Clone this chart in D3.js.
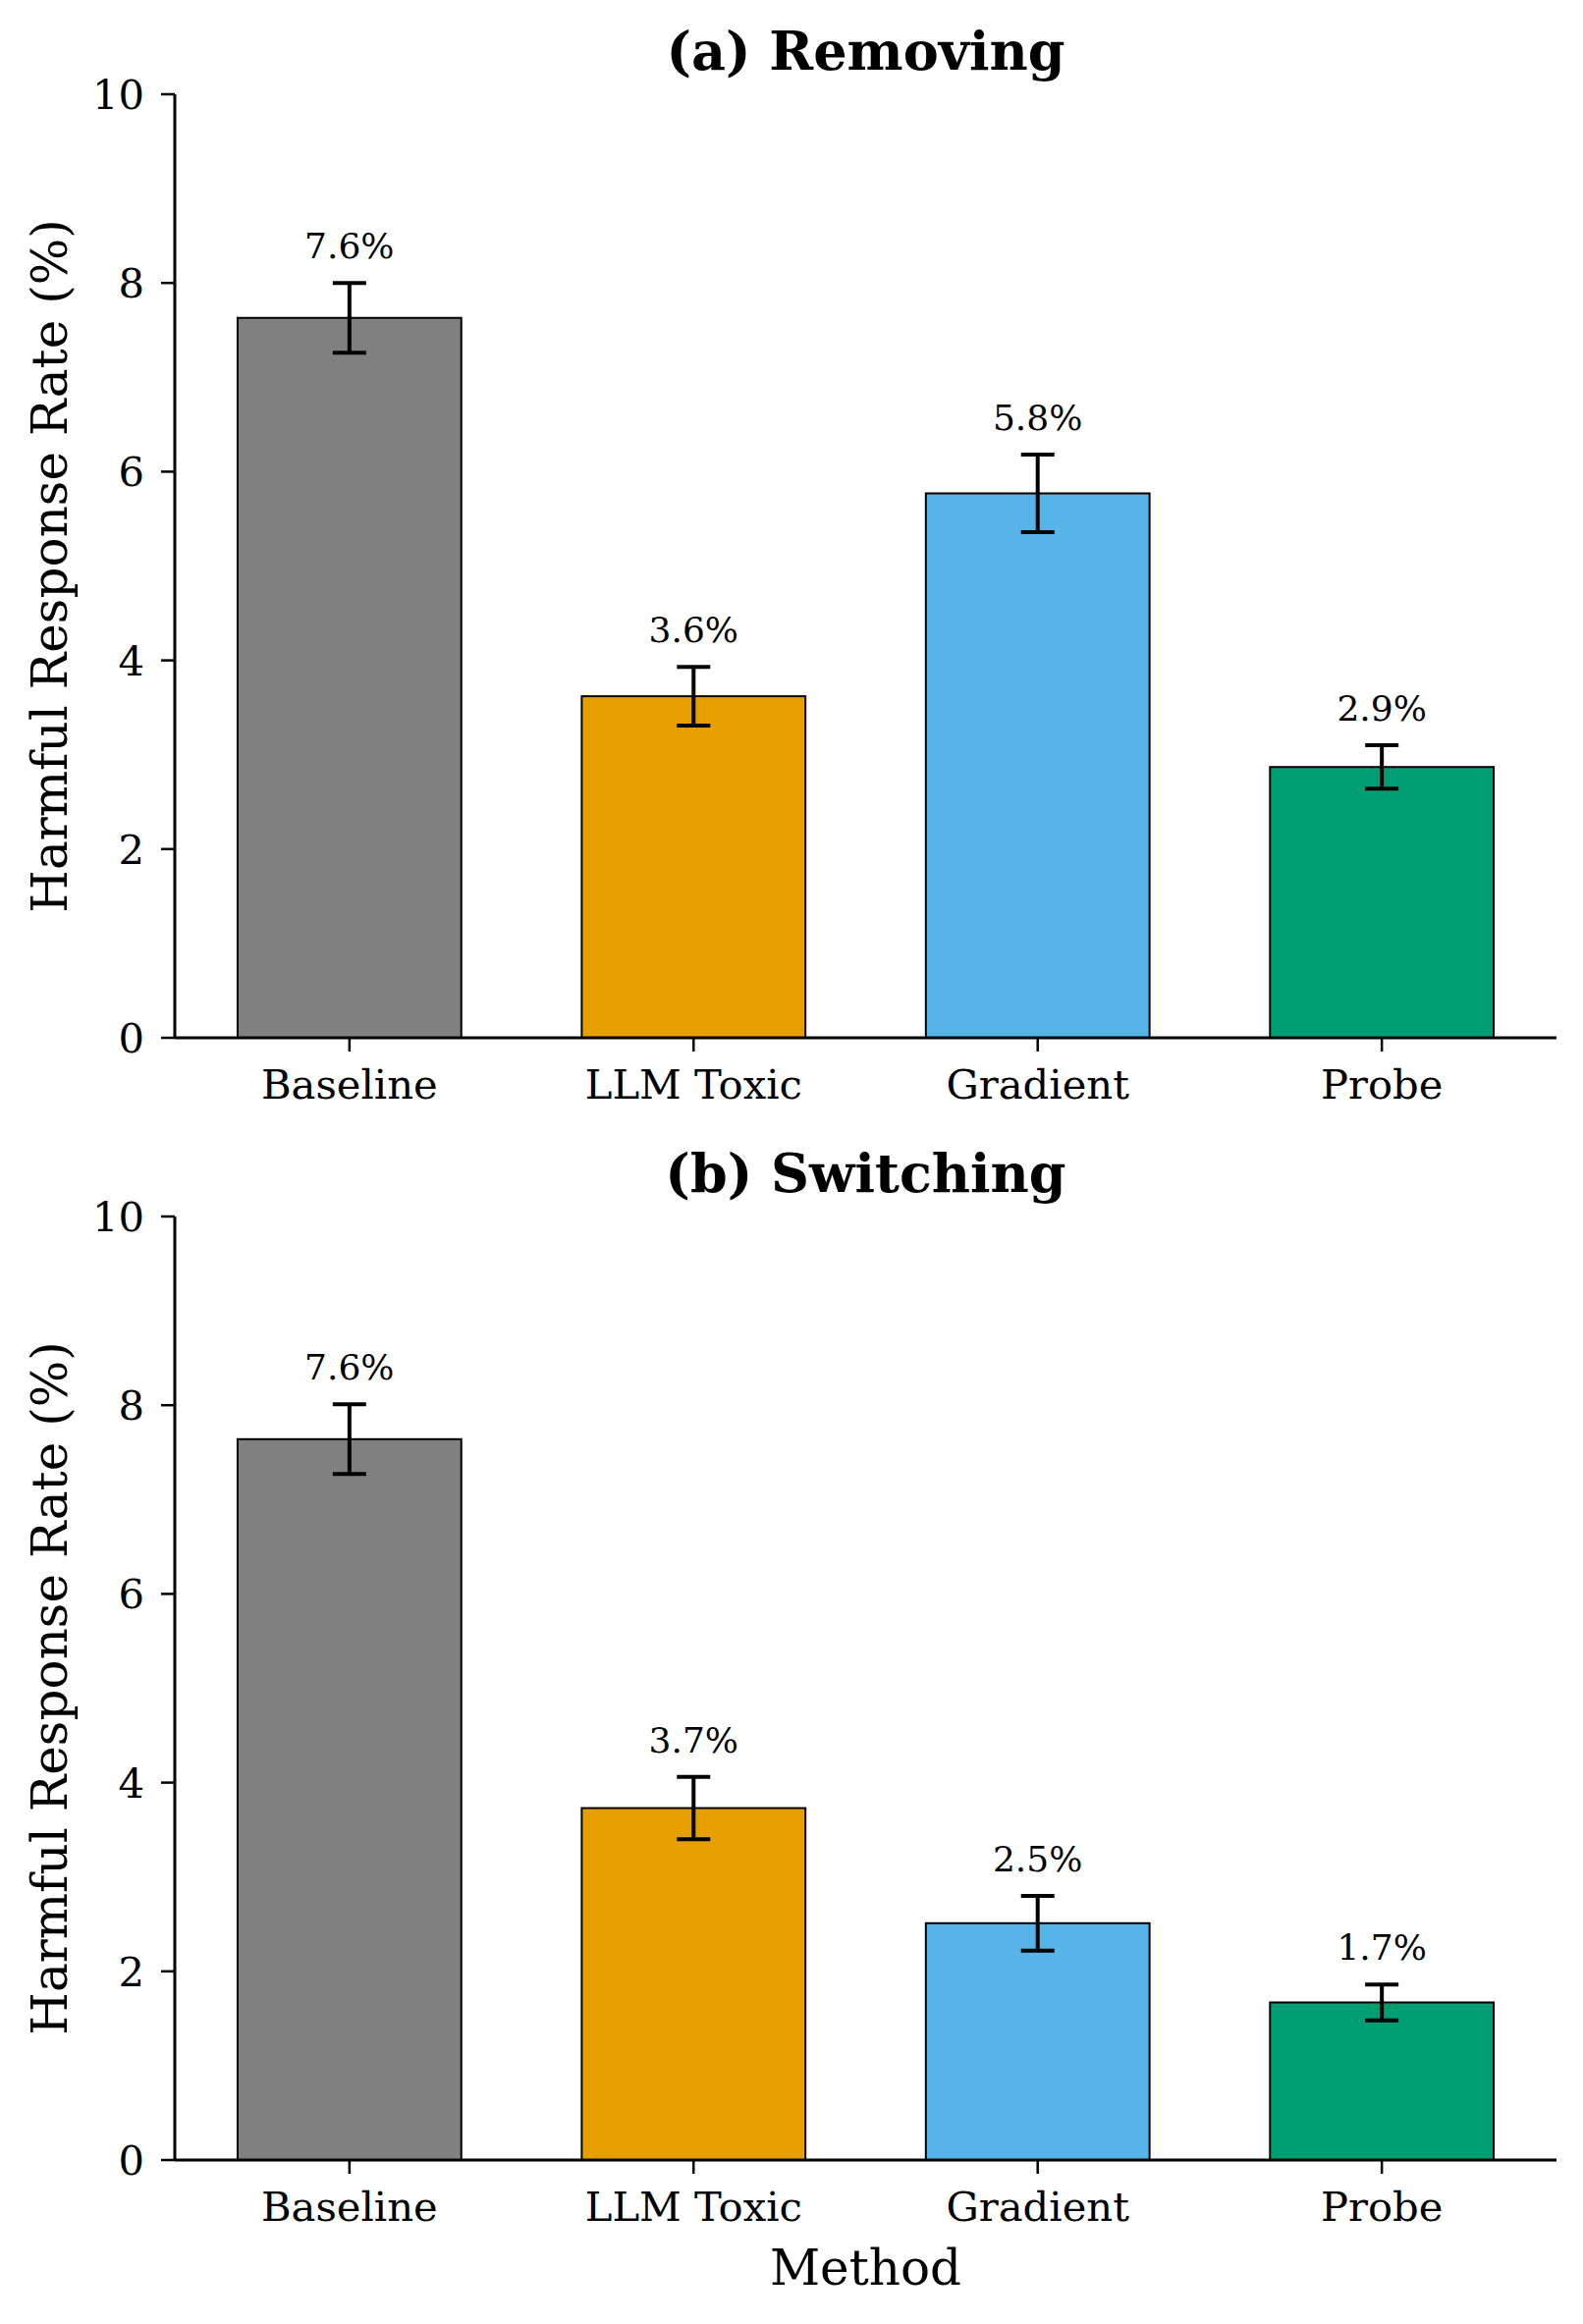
<!DOCTYPE html>
<html>
<head>
<meta charset="utf-8">
<script src="https://cdn.jsdelivr.net/npm/d3@7"></script>
<style>
  body { margin: 0; background: #fff; }
  text { font-family: "DejaVu Serif", serif; fill: #000; }
</style>
</head>
<body>
<div class="chart"></div>
<script>
// data
let methods = ['Baseline', 'LLM Toxic', 'Gradient', 'Probe']
let colors = ['#808080', '#E69F00', '#56B4E9', '#009E73']
let removingRate = [7.63, 3.62, 5.77, 2.87]
let removingErr = [0.37, 0.31, 0.41, 0.23]
let switchingRate = [7.64, 3.73, 2.51, 1.67]
let switchingErr = [0.37, 0.33, 0.29, 0.19]
let yTicks = [0, 2, 4, 6, 8, 10]

let panels = [
  { title: '(a) Removing', rate: removingRate, err: removingErr, top: 96 },
  { title: '(b) Switching', rate: switchingRate, err: switchingErr, top: 1239 }
]

let w = 1612
  , h = 2367
  , left = 178
  , right = 1585
  , plotH = 961

let canvas = d3.select('.chart')
  .append('svg')
  .attr('width', w)
  .attr('height', h)

let x = d3.scaleBand()
  .domain(methods)
  .range([left, right])
  .paddingInner(0.35)
  .paddingOuter(0.1825)

function drawPanel(p) {
  let y = d3.scaleLinear()
    .domain([0, 10])
    .range([p.top + plotH, p.top])

  let g = canvas.append('g')

  g.selectAll('rect')
    .data(p.rate)
    .enter()
    .append('rect')
    .attr('x', (d, i) => x(methods[i]))
    .attr('width', x.bandwidth())
    .attr('y', d => y(d))
    .attr('height', d => y(0) - y(d))
    .attr('fill', (d, i) => colors[i])
    .attr('stroke', '#000')
    .attr('stroke-width', 2)

  // error bars
  let cx = i => x(methods[i]) + x.bandwidth() / 2
  let eb = g.selectAll('.err')
    .data(p.rate)
    .enter()
    .append('g')
    .attr('class', 'err')
  eb.append('line')
    .attr('x1', (d, i) => cx(i)).attr('x2', (d, i) => cx(i))
    .attr('y1', (d, i) => y(d - p.err[i])).attr('y2', (d, i) => y(d + p.err[i]))
  eb.append('line')
    .attr('x1', (d, i) => cx(i) - 17).attr('x2', (d, i) => cx(i) + 17)
    .attr('y1', (d, i) => y(d + p.err[i])).attr('y2', (d, i) => y(d + p.err[i]))
  eb.append('line')
    .attr('x1', (d, i) => cx(i) - 17).attr('x2', (d, i) => cx(i) + 17)
    .attr('y1', (d, i) => y(d - p.err[i])).attr('y2', (d, i) => y(d - p.err[i]))
  eb.selectAll('line')
    .attr('stroke', '#000')
    .attr('stroke-width', 4)

  // value labels
  g.selectAll('.val')
    .data(p.rate)
    .enter()
    .append('text')
    .attr('class', 'val')
    .attr('x', (d, i) => cx(i))
    .attr('y', (d, i) => y(d + p.err[i]) - 25)
    .attr('text-anchor', 'middle')
    .attr('font-size', 36)
    .text(d => d.toFixed(1) + '%')

  // axes
  let yAxis = g.append('g')
    .attr('transform', 'translate(' + left + ',0)')
    .call(d3.axisLeft(y).tickValues(yTicks).tickSize(14).tickSizeOuter(0).tickPadding(17).offset(0))
  yAxis.selectAll('text')
    .attr('font-size', 41.7)
    .attr('dy', '0.36em')
    .style('font-family', '"DejaVu Serif", serif')

  let xAxis = g.append('g')
    .attr('transform', 'translate(0,' + y(0) + ')')
    .call(d3.axisBottom(x).tickSize(14).tickSizeOuter(0).tickPadding(18).offset(0))
  xAxis.selectAll('text')
    .attr('font-size', 41.7)
    .style('font-family', '"DejaVu Serif", serif')

  g.selectAll('.domain').attr('stroke-width', 3)
  g.selectAll('.tick line').attr('stroke-width', 2.5)

  g.append('text')
    .attr('x', (left + right) / 2)
    .attr('y', p.top - 25)
    .attr('text-anchor', 'middle')
    .attr('font-size', 54)
    .attr('font-weight', 'bold')
    .text(p.title)

  g.append('text')
    .attr('transform', 'translate(68,' + (p.top + plotH / 2) + ') rotate(-90)')
    .attr('text-anchor', 'middle')
    .attr('font-size', 50)
    .text('Harmful Response Rate (%)')
}

panels.forEach(drawPanel)

canvas.append('text')
  .attr('x', (left + right) / 2)
  .attr('y', 2327)
  .attr('text-anchor', 'middle')
  .attr('font-size', 50)
  .text('Method')
</script>
</body>
</html>
